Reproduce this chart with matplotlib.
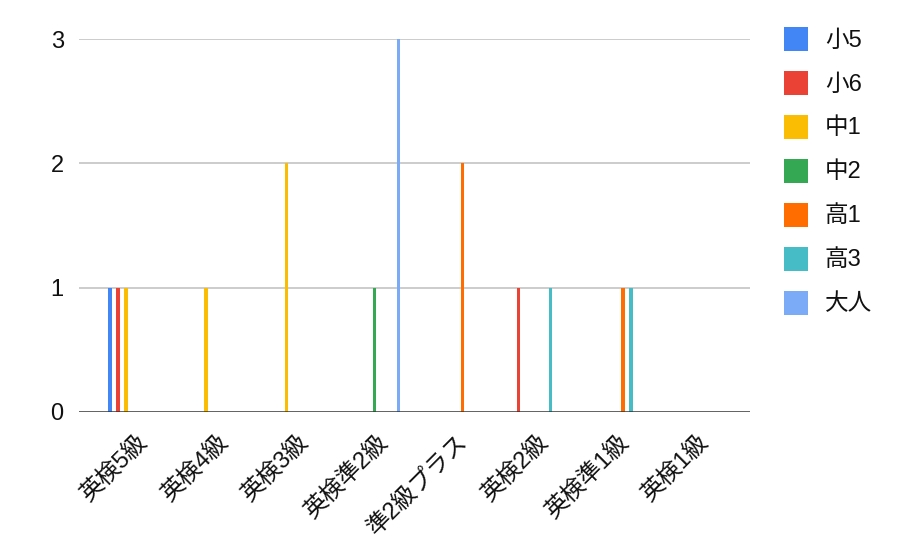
import matplotlib
matplotlib.use("Agg")
import matplotlib.pyplot as plt
import matplotlib.transforms as mtransforms
from matplotlib.patches import Rectangle
import numpy as np

plt.rcParams['font.family'] = ['Liberation Sans', 'Noto Sans CJK JP', 'DejaVu Sans']

# =========================
# DATA
# =========================
categories = ['英検5級', '英検4級', '英検3級', '英検準2級', '準2級プラス', '英検2級', '英検準1級', '英検1級']
series_names = ['小5', '小6', '中1', '中2', '高1', '高3', '大人']
colors = ['#4285F4', '#EA4335', '#FBBC04', '#34A853', '#FF6D01', '#46BDC6', '#7BAAF7']

sho5 = [1, 0, 0, 0, 0, 0, 0, 0]
sho6 = [1, 0, 0, 0, 0, 1, 0, 0]
chu1 = [1, 1, 2, 0, 0, 0, 0, 0]
chu2 = [0, 0, 0, 1, 0, 0, 0, 0]
kou1 = [0, 0, 0, 0, 2, 0, 1, 0]
kou3 = [0, 0, 0, 0, 0, 1, 1, 0]
otona = [0, 0, 0, 3, 0, 0, 0, 0]
values = [sho5, sho6, chu1, chu2, kou1, kou3, otona]

yticks = [0, 1, 2, 3]

# =========================
# PLOT
# =========================
W, H = 900, 556
FS = 17
TXT = '#111111'
fig = plt.figure(figsize=(W / 100, H / 100), dpi=100)
ax = fig.add_axes([79 / W, (H - 412) / H, (750 - 79) / W, (412 - 39) / H])

x = np.arange(len(categories))
step = 0.1
bar_w = 0.044
for i, (name, vals, c) in enumerate(zip(series_names, values, colors)):
    ax.bar(x + (i - 3) * step, vals, width=bar_w, color=c, zorder=2, label=name)

ax.set_xlim(-0.687, len(categories) - 1 + 0.687)
ax.set_ylim(0, 3)

for s in ax.spines.values():
    s.set_visible(False)

for v in yticks[1:]:
    ax.axhline(v, color='#cccccc', lw=1.4, zorder=1)
ax.axhline(0, color='#333333', lw=1.8, zorder=3)

ax.set_yticks(yticks)
ax.set_yticklabels([str(v) for v in yticks], fontsize=FS, color=TXT)
ax.tick_params(axis='y', length=0, pad=11)

ax.set_xticks(x)
ax.set_xticklabels(categories, fontsize=FS, color=TXT,
                   rotation=45, ha='right', va='center', rotation_mode='anchor')
ax.tick_params(axis='x', length=0, pad=0)
# shift rotated labels so their end sits just right of / below the group
offset = mtransforms.ScaledTranslation(10 / 100, -27 / 100, fig.dpi_scale_trans)
for lab in ax.get_xticklabels():
    lab.set_transform(lab.get_transform() + offset)

# legend
for i, (name, c) in enumerate(zip(series_names, colors)):
    yc = 39 + 44 * i
    fig.patches.append(Rectangle((784 / W, (H - yc - 12) / H), 24 / W, 24 / H,
                                 transform=fig.transFigure, facecolor=c,
                                 edgecolor='none'))
    fig.text(825 / W, (H - yc - 1.5) / H, name, fontsize=FS, color=TXT,
             va='center', ha='left')

fig.savefig('out.png', dpi=100)
